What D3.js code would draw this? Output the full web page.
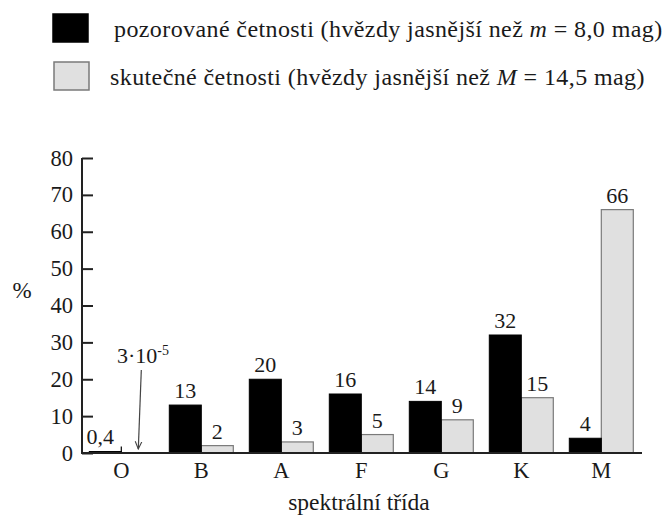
<!DOCTYPE html>
<html>
<head>
<meta charset="utf-8">
<script src="https://cdn.jsdelivr.net/npm/d3@7"></script>
<style>
  body { margin: 0; background: #fff; }
</style>
</head>
<body>
<div id="chart"></div>
<script>
// spectral classes and the two series (percent)
const classes = ["O", "B", "A", "F", "G", "K", "M"];
const observed = [0.4, 13, 20, 16, 14, 32, 4];
const actual = [0.00003, 2, 3, 5, 9, 15, 66];
const observedLabels = ["0,4", "13", "20", "16", "14", "32", "4"];
const actualLabels = ["", "2", "3", "5", "9", "15", "66"];
const yTicks = [0, 10, 20, 30, 40, 50, 60, 70, 80];

const width = 667, height = 518;
const serif = "'Liberation Serif', 'Times New Roman', Times, serif";

const svg = d3.select("#chart")
    .append("svg")
    .attr("width", width)
    .attr("height", height)
    .attr("font-family", serif);

const x = d3.scaleBand()
    .domain(classes)
    .range([81.3, 641.3])
    .paddingInner(0.2)
    .paddingOuter(0.1);

const sub = d3.scaleBand()
    .domain(["obs", "act"])
    .range([0, x.bandwidth()]);

const y = d3.scaleLinear()
    .domain([0, 80])
    .range([453, 158]);

const rows = classes.map((c, i) => ({
    cls: c,
    obs: observed[i], act: actual[i],
    obsLabel: observedLabels[i], actLabel: actualLabels[i]
}));

// bars
const g = svg.append("g");
const grp = g.selectAll("g.grp")
    .data(rows)
    .join("g")
    .attr("class", "grp")
    .attr("transform", d => `translate(${x(d.cls)},0)`);

grp.append("rect")
    .attr("x", sub("act"))
    .attr("y", d => y(d.act))
    .attr("width", sub.bandwidth())
    .attr("height", d => y(0) - y(d.act))
    .attr("fill", "#e0e0e0")
    .attr("stroke", d => d.act < 0.01 ? "none" : "#7a7a7a")
    .attr("stroke-width", 1.2);

grp.append("rect")
    .attr("x", sub("obs"))
    .attr("y", d => y(d.obs))
    .attr("width", sub.bandwidth())
    .attr("height", d => y(0) - y(d.obs))
    .attr("fill", "#000")
    .attr("stroke", "#000")
    .attr("stroke-width", 1);

// small edge mark on the tiny O bar
grp.filter(d => d.obs < 1)
    .append("line")
    .attr("x1", sub("obs") + sub.bandwidth())
    .attr("x2", sub("obs") + sub.bandwidth())
    .attr("y1", d => y(d.obs) - 5)
    .attr("y2", y(0))
    .attr("stroke", "#000")
    .attr("stroke-width", 1.2);

// value labels
grp.append("text")
    .attr("x", d => sub("obs") + sub.bandwidth() / 2 - (d.obs < 1 ? 5 : 0))
    .attr("y", d => y(d.obs) - (d.obs < 1 ? 8 : 7))
    .attr("text-anchor", "middle")
    .attr("fill", "#1a1a1a")
    .style("font-size", "22px")
    .text(d => d.obsLabel);

grp.append("text")
    .attr("x", sub("act") + sub.bandwidth() / 2)
    .attr("y", d => y(d.act) - 7)
    .attr("text-anchor", "middle")
    .attr("fill", "#1a1a1a")
    .style("font-size", "22px")
    .text(d => d.actLabel);

// y axis
const yAxis = svg.append("g")
    .attr("transform", "translate(82,0)")
    .call(d3.axisRight(y).tickValues(yTicks).tickSize(11).tickFormat(""));
yAxis.select(".domain").attr("stroke", "#222").attr("stroke-width", 2).attr("d", `M0,${y(80)}V${y(0)}`);
yAxis.selectAll(".tick line").attr("stroke", "#222").attr("stroke-width", 2);

svg.append("g").selectAll("text")
    .data(yTicks)
    .join("text")
    .attr("x", 73)
    .attr("y", d => y(d) + 7.5)
    .attr("text-anchor", "end")
    .attr("fill", "#1a1a1a")
    .style("font-size", "22.5px")
    .text(d => d);

// x axis
const xAxis = svg.append("g")
    .attr("transform", `translate(0,${y(0)})`)
    .call(d3.axisBottom(x).tickSize(0).tickPadding(8));
xAxis.attr("font-family", serif);
xAxis.select(".domain").attr("stroke", "#222").attr("stroke-width", 2).attr("d", "M81,0H642");
xAxis.selectAll(".tick text")
    .attr("dy", "0.75em")
    .attr("transform", `translate(${sub.bandwidth() - x.bandwidth() / 2},0)`)
    .attr("font-size", 22.5)
    .attr("fill", "#1a1a1a");

// axis titles
svg.append("text")
    .attr("x", 22)
    .attr("y", 298)
    .attr("text-anchor", "middle")
    .attr("fill", "#1a1a1a")
    .style("font-size", "23px")
    .text("%");

svg.append("text")
    .attr("x", 359)
    .attr("y", 510)
    .attr("text-anchor", "middle")
    .attr("fill", "#1a1a1a")
    .style("font-size", "23.5px")
    .text("spektrální třída");

// annotation for the tiny O-class value
const ox = x("O") + sub("act") + sub.bandwidth() / 2;
svg.append("defs").append("marker")
    .attr("id", "arrow")
    .attr("viewBox", "0 0 10 10")
    .attr("refX", 9).attr("refY", 5)
    .attr("markerWidth", 7).attr("markerHeight", 7)
    .attr("orient", "auto")
    .append("path")
    .attr("d", "M0,1L9,5L0,9")
    .attr("fill", "none")
    .attr("stroke", "#444")
    .attr("stroke-width", 1.3);

svg.append("line")
    .attr("x1", ox + 4).attr("y1", 370)
    .attr("x2", ox + 1).attr("y2", y(0) - 4)
    .attr("stroke", "#444")
    .attr("stroke-width", 1.2)
    .attr("marker-end", "url(#arrow)");

const ann = svg.append("text")
    .attr("x", 117)
    .attr("y", 363)
    .attr("fill", "#1a1a1a")
    .style("font-size", "22px");
ann.append("tspan").text("3·10");
ann.append("tspan").attr("dy", -8).style("font-size", "14px").text("-5");

// legend
const legend = [
    { fill: "#000", stroke: "#000", y: 14, parts: ["pozorované četnosti (hvězdy jasnější než ", "m", " = 8,0 mag)"] },
    { fill: "#e0e0e0", stroke: "#7a7a7a", y: 62, parts: ["skutečné četnosti (hvězdy jasnější než ", "M", " = 14,5 mag)"] }
];
const lg = svg.append("g").selectAll("g")
    .data(legend)
    .join("g");
lg.append("rect")
    .attr("x", (d, i) => i ? 54 : 53)
    .attr("y", d => d.y)
    .attr("width", 35)
    .attr("height", 28)
    .attr("fill", d => d.fill)
    .attr("stroke", d => d.stroke)
    .attr("stroke-width", 1.5);
const lt = lg.append("text")
    .attr("x", (d, i) => i ? 110 : 114)
    .attr("y", d => d.y + 23)
    .attr("fill", "#1a1a1a")
    .style("font-size", "24px")
    .style("letter-spacing", "0.4px");
lt.selectAll("tspan")
    .data(d => d.parts)
    .join("tspan")
    .style("font-style", (d, i) => i === 1 ? "italic" : "normal")
    .text(d => d);
</script>
</body>
</html>
